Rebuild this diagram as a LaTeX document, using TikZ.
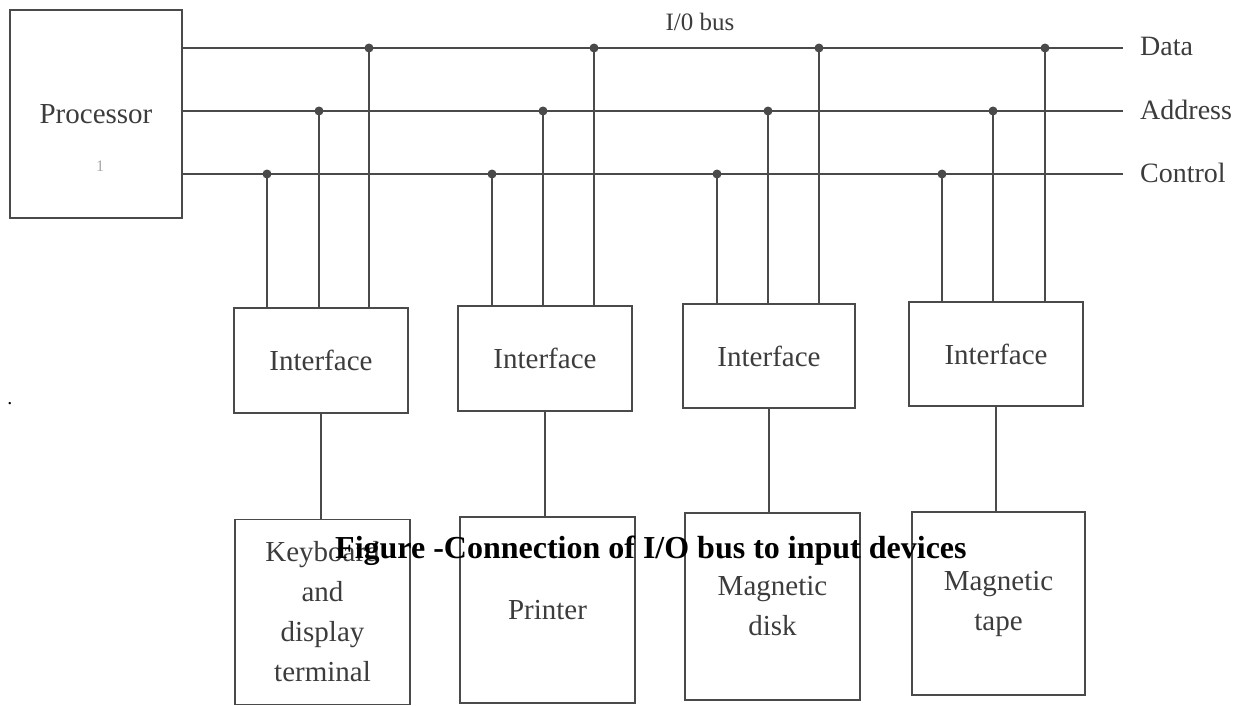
\documentclass[tikz,border=0pt]{standalone}
\usepackage{fontspec}
\setmainfont{Liberation Serif}
\usetikzlibrary{calc}
\definecolor{ink}{HTML}{4A4A4A}
\definecolor{txt}{HTML}{3C3C3C}
\tikzset{
  unitbox/.style={draw=ink, line width=1.8pt, inner sep=0pt, anchor=center,
    font=\fontsize{29}{40}\selectfont, text=txt, align=center},
  wire/.style={draw=ink, line width=1.6pt},
  tap/.style={fill=ink, draw=none},
  buslabel/.style={anchor=west, font=\fontsize{28}{32}\selectfont, text=txt, inner sep=0pt},
}
\begin{document}
\begin{tikzpicture}[x=1pt,y=-1pt]
\useasboundingbox (0,0) rectangle (1243,705);

% processor
\node[unitbox, minimum width=172pt, minimum height=208pt] (proc) at (96,114) {};
\node[font=\fontsize{29}{32}\selectfont, text=txt] (proclbl) at (96,114) {Processor};
\node[font=\fontsize{16}{18}\selectfont, text=gray!70] (procmark) at (100,166) {1};

% bus end points
\coordinate (dEnd) at (1123,48);
\coordinate (aEnd) at (1123,111);
\coordinate (cEnd) at (1123,174);
\coordinate (dStart) at (proc.east |- dEnd);
\coordinate (aStart) at (proc.east |- aEnd);
\coordinate (cStart) at (proc.east |- cEnd);

\draw[wire] (dStart) -- (dEnd);
\draw[wire] (aStart) -- (aEnd);
\draw[wire] (cStart) -- (cEnd);

\node[buslabel] (dl) at (1140,46) {Data};
\node[buslabel] (al) at (1140,110) {Address};
\node[buslabel] (cl) at (1140,173) {Control};
\node[font=\fontsize{25}{28}\selectfont, text=txt] (busname) at (700,22) {I/0 bus};

% interfaces
\node[unitbox, minimum width=174pt, minimum height=105pt] (if1) at (321,360.5) {Interface};
\node[unitbox, minimum width=174pt, minimum height=105pt] (if2) at (545,358.5) {Interface};
\node[unitbox, minimum width=172pt, minimum height=104pt] (if3) at (769,356) {Interface};
\node[unitbox, minimum width=174pt, minimum height=104pt] (if4) at (996,354) {Interface};

% devices
\node[unitbox, minimum width=175pt, minimum height=185pt] (dev1) at (322.5,612)
  {Keyboard\\and\\display\\terminal};
\node[unitbox, minimum width=175pt, minimum height=186pt] (dev2) at (547.5,610) {Printer};
\node[unitbox, minimum width=175pt, minimum height=187pt] (dev3) at (772.5,606.5) {Magnetic\\disk};
\node[unitbox, minimum width=173pt, minimum height=183pt] (dev4) at (998.5,603.5) {Magnetic\\tape};

% taps on the bus and drops to each interface
\foreach \i/\xc/\xa/\xd in {1/267/319/369, 2/492/543/594, 3/717/768/819, 4/942/993/1045}{
  \coordinate (c\i) at (\xc,174);
  \coordinate (a\i) at (\xa,111);
  \coordinate (d\i) at (\xd,48);
  \draw[wire] (c\i) -- (c\i |- if\i.north);
  \draw[wire] (a\i) -- (a\i |- if\i.north);
  \draw[wire] (d\i) -- (d\i |- if\i.north);
  \fill[tap] (c\i) circle (4.5pt);
  \fill[tap] (a\i) circle (4.5pt);
  \fill[tap] (d\i) circle (4.5pt);
  \draw[wire] (if\i.south) -- (if\i.south |- dev\i.north);
}

% stray mark and caption
\node[font=\fontsize{20}{24}\selectfont] (dot) at (10,404) {.};
\node[anchor=base west, inner sep=0pt, font=\fontsize{32}{36}\selectfont\bfseries] (caption)
  at (335,558) {Figure -Connection of I/O bus to input devices};
\end{tikzpicture}
\end{document}
